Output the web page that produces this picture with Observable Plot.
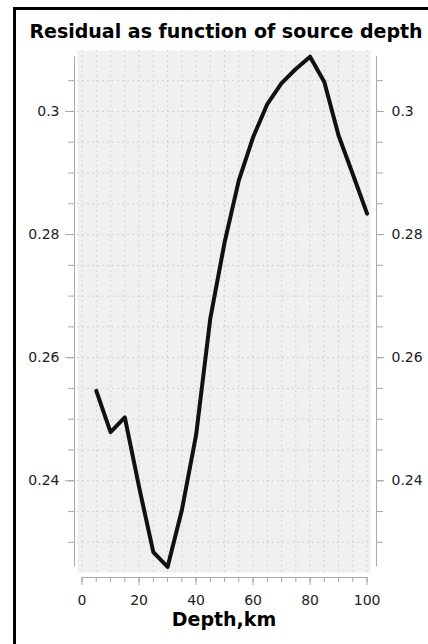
<!DOCTYPE html>
<html><head><meta charset="utf-8">
<script src="https://cdn.jsdelivr.net/npm/d3@7"></script>
<script src="https://cdn.jsdelivr.net/npm/@observablehq/plot@0.6"></script>
<style>
body{margin:0;background:#fff;}
#wrap{position:relative;width:428px;height:644px;overflow:hidden;font-family:"DejaVu Sans",sans-serif;}
#chart{position:absolute;left:0;top:0;}
#border{position:absolute;left:13px;top:7px;width:1000px;height:1000px;border-left:3px solid #000;border-top:3px solid #000;}
</style></head><body>
<div id="wrap"><div id="chart"></div><div id="border"></div></div>
<script>
const title = "Residual as function of source depth";
const xLabel = "Depth,km";
const depths = [5,10,15,20,25,30,35,40,45,50,55,60,65,70,75,80,85,90,95,100];
const residuals = [0.2546,0.2479,0.2503,0.2390,0.2284,0.2260,0.2352,0.2474,0.2664,0.2787,0.2888,0.2958,0.3012,0.3046,0.3069,0.3089,0.3048,0.2961,0.2898,0.2834];
const xMajorTicks = [0,20,40,60,80,100];
const xMinorTicks = [0,5,10,15,20,25,30,35,40,45,50,55,60,65,70,75,80,85,90,95,100];
const yMajorTicks = [0.24,0.26,0.28,0.3];
const yMinorTicks = [0.23,0.235,0.24,0.245,0.25,0.255,0.26,0.265,0.27,0.275,0.28,0.285,0.29,0.295,0.3,0.305];

const xDomain = [-1.6, 101.2];
const yDomain = [0.2251, 0.3099];
const data = depths.map((d, i) => ({depth: d, residual: residuals[i]}));
const fmt = d => String(+d.toFixed(3));
const axisColor = "#a8a8a8";
const textColor = "#222";
const gridColor = "#d2d2d2";

const chart = Plot.plot({
  width: 428,
  height: 644,
  marginLeft: 77,
  marginRight: 58,
  marginTop: 50,
  marginBottom: 72,
  style: {fontFamily: "DejaVu Sans", fontSize: "14px", background: "transparent", color: textColor},
  x: {domain: xDomain, axis: null},
  y: {domain: yDomain, axis: null},
  marks: [
    Plot.frame({fill: "#f0f0f0", stroke: null}),
    Plot.gridX(xMinorTicks, {stroke: gridColor, strokeOpacity: 1, strokeDasharray: "2,3"}),
    Plot.gridY(yMinorTicks, {stroke: gridColor, strokeOpacity: 1, strokeDasharray: "2,3"}),
    // left axis
    Plot.ruleX([xDomain[0]], {y1: d3.min(residuals), y2: d3.max(residuals), dx: -3, stroke: axisColor}),
    Plot.axisY(yMinorTicks, {anchor: "left", tickSize: 6, dx: -3, stroke: axisColor, tickFormat: () => "", label: null}),
    Plot.axisY(yMajorTicks, {anchor: "left", tickSize: 9, tickPadding: 6, dx: -3, stroke: axisColor, fill: textColor, fontSize: 14, tickFormat: fmt, label: null}),
    // right axis
    Plot.ruleX([xDomain[1]], {y1: d3.min(residuals), y2: d3.max(residuals), dx: 6, stroke: axisColor}),
    Plot.axisY(yMinorTicks, {anchor: "right", tickSize: 6, dx: 6, stroke: axisColor, tickFormat: () => "", label: null}),
    Plot.axisY(yMajorTicks, {anchor: "right", tickSize: 7, tickPadding: 8, dx: 6, stroke: axisColor, fill: textColor, fontSize: 14, tickFormat: fmt, label: null}),
    // bottom axis
    Plot.ruleY([yDomain[0]], {x1: xMinorTicks[0], x2: xMinorTicks[xMinorTicks.length - 1], dy: 5, stroke: axisColor}),
    Plot.axisX(xMinorTicks, {anchor: "bottom", tickSize: 5, dy: 5, stroke: axisColor, tickFormat: () => "", label: null}),
    Plot.axisX(xMajorTicks, {anchor: "bottom", tickSize: 8, tickPadding: 10, dy: 5, stroke: axisColor, fill: textColor, fontSize: 14, tickFormat: fmt, label: null}),
    Plot.text([xLabel], {frameAnchor: "bottom", lineAnchor: "middle", dy: 47, fontSize: 19, fontWeight: "bold", fill: "#000"}),
    Plot.text([title], {frameAnchor: "top", lineAnchor: "middle", dy: -19, dx: 2, fontSize: 19, fontWeight: "bold", fill: "#000"}),
    // data line
    Plot.line(data, {x: "depth", y: "residual", stroke: "#111", strokeWidth: 4})
  ]
});
document.getElementById("chart").appendChild(chart);
</script>
</body></html>
